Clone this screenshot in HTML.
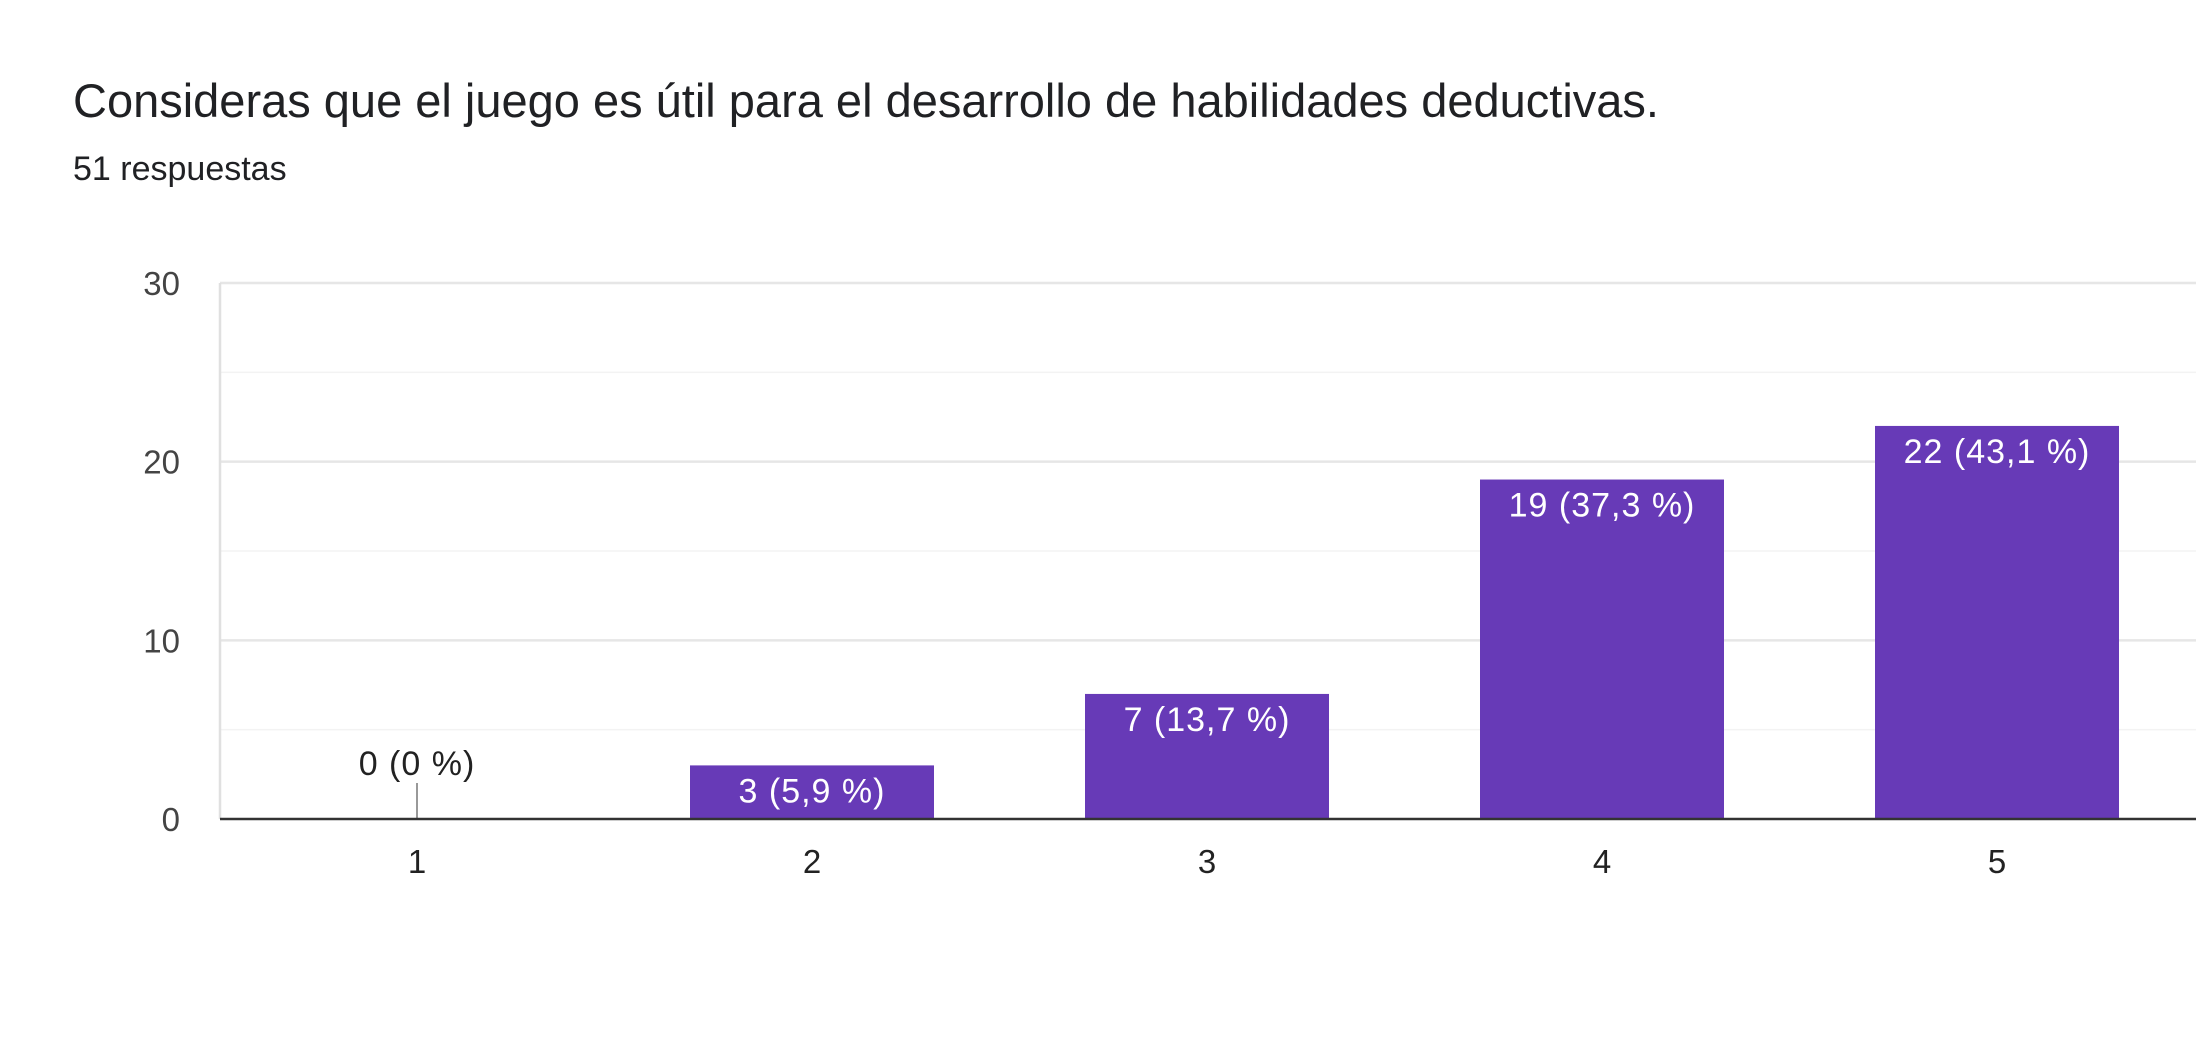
<!DOCTYPE html>
<html><head><meta charset="utf-8"><style>
body{margin:0;background:#fff;width:2196px;height:1044px;overflow:hidden;font-family:"Liberation Sans",Arial,sans-serif}
</style></head><body>
<svg width="2196" height="1044">
<text x="73" y="117" font-size="47" fill="#202124">Consideras que el juego es útil para el desarrollo de habilidades deductivas.</text>
<text x="73" y="180" font-size="34" fill="#202124">51 respuestas</text>
<g id="plot"></g>
</svg>
<script>
const categories=["1","2","3","4","5"];
const values=[0,3,7,19,22];
const valueLabels=["0 (0 %)","3 (5,9 %)","7 (13,7 %)","19 (37,3 %)","22 (43,1 %)"];
const yTicks=[0,10,20,30];
const L=220,R=2196,T=283,B=819,max=30;
const y=v=>B-(B-T)*v/max;
const step=395,x0=417,bw=244;
const x=i=>x0+i*step;
const g=document.getElementById('plot');const NS="http://www.w3.org/2000/svg";
function mk(t,a){const e=document.createElementNS(NS,t);for(const k in a)e.setAttribute(k,a[k]);g.appendChild(e);return e;}
for(let v=5;v<=30;v+=5){const l=mk('line',{x1:L,x2:R,y1:y(v),y2:y(v),stroke:v%10?'#f3f3f3':'#e6e6e6','stroke-width':v%10?1.5:2.5});

}
const ax=mk('line',{x1:L,x2:L,y1:T,y2:B,stroke:'#e0e0e0','stroke-width':2.5});


yTicks.forEach(v=>{const t=mk('text',{x:180,y:y(v)+12,'text-anchor':'end','font-size':33,fill:'#444'});t.textContent=v;

});
values.forEach((v,i)=>{
 if(v>0){const r=mk('rect',{x:x(i)-bw/2,y:y(v),width:bw,height:B-y(v),fill:'#673ab7'});
 
 
 const t=mk('text',{x:x(i),y:y(v)+37,'text-anchor':'middle','font-size':34,'letter-spacing':1,fill:'#fff'});t.textContent=valueLabels[i];
 
 }
 else{const r=mk('line',{x1:x(i),x2:x(i),y1:B-36,y2:B,stroke:'#999','stroke-width':2});
 
 
 const t=mk('text',{x:x(i),y:B-44,'text-anchor':'middle','font-size':34,'letter-spacing':1,fill:'#222'});t.textContent=valueLabels[i];
 
 }
 const c=mk('text',{x:x(i),y:873,'text-anchor':'middle','font-size':33,fill:'#222'});c.textContent=categories[i];
 
 
});
const bl=mk('line',{x1:L,x2:R,y1:B,y2:B,stroke:'#333','stroke-width':2.5});


</script>
</body></html>
